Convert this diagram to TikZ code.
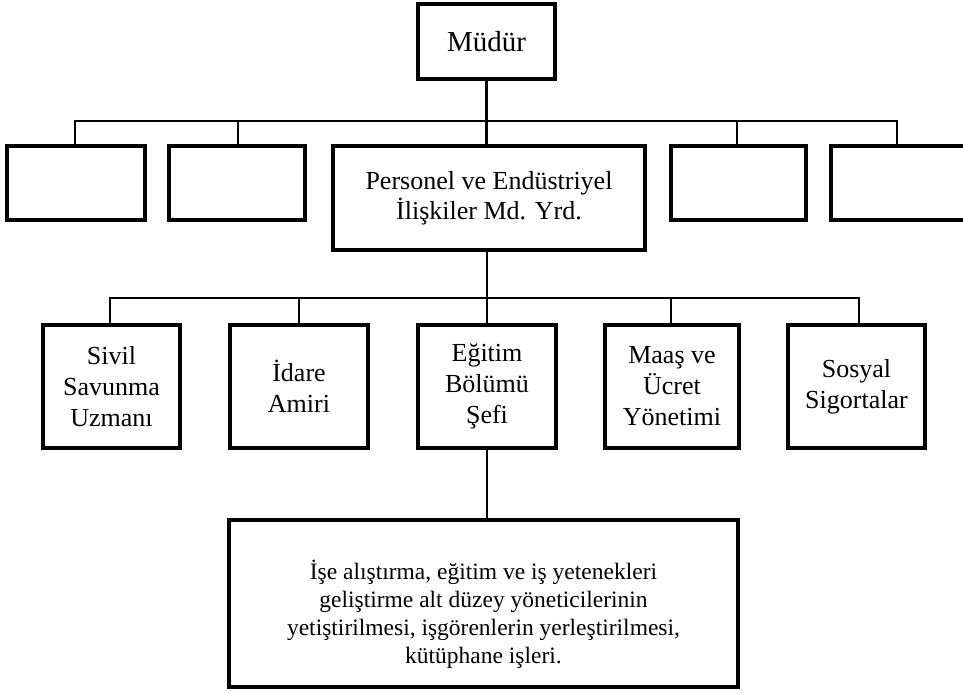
\documentclass[tikz,border=0pt]{standalone}
\usepackage{fontspec}
\setmainfont{Liberation Serif}
\begin{document}
\begin{tikzpicture}[x=1pt,y=-1pt,
  box/.style={draw=black,line width=3.2pt,rectangle,inner sep=0pt,align=center,
    font=\fontsize{26}{31}\selectfont},
  topbox/.style={box,minimum height=74pt},
  unitbox/.style={box,minimum height=123pt},
  link/.style={draw=black,line width=2.8pt}]
\useasboundingbox (0,0) rectangle (963,693);
\clip (0,0) rectangle (963,693);

% head of the organisation
\node[box,minimum width=137pt,minimum height=75pt,font=\fontsize{29}{34}\selectfont] (mudur) at (486.5,41.5)
  {\raisebox{-3pt}{Müdür}};

% first level
\node[topbox,minimum width=138pt] (b1) at (76,183) {};
\node[topbox,minimum width=136pt] (b2) at (237,183) {};
\node[box,minimum width=312pt,minimum height=104pt,font=\fontsize{26}{30}\selectfont] (pers) at (489,198)
  {Personel ve Endüstriyel\\İlişkiler Md. Yrd.};
\node[topbox,minimum width=135pt] (b4) at (738.5,183) {};
\node[topbox,minimum width=136pt] (b5) at (899,183) {};

% second level
\node[unitbox,minimum width=137pt] (sivil) at (111.5,386.5) {Sivil\\Savunma\\Uzmanı};
\node[unitbox,minimum width=138pt] (idare) at (299,386.5) {İdare\\Amiri};
\node[unitbox,minimum width=138pt] (egitim) at (487,386.5) {Eğitim\\Bölümü\\Şefi};
\node[unitbox,minimum width=134pt] (maas) at (672,386.5) {Maaş ve\\Ücret\\Yönetimi};
\node[unitbox,minimum width=137pt] (sosyal) at (856.5,386.5) {Sosyal\\Sigortalar};

% duties of the training section
\node[box,minimum width=509pt,minimum height=167pt] (gorev) at (483.5,603.5) {};
\node[align=center,inner sep=0pt,font=\fontsize{23.5}{28}\selectfont] (gorevtext) at (483.5,614)
  {İşe alıştırma, eğitim ve iş yetenekleri\\geliştirme alt düzey yöneticilerinin\\yetiştirilmesi, işgörenlerin yerleştirilmesi,\\kütüphane işleri.};

% bus lines
\coordinate (busA) at (0,121);
\coordinate (busB) at (0,298);

\draw[link] (mudur.south) -- (mudur.south |- pers.north);
\draw[link] ([xshift=-1pt]b1.north) -- ([xshift=-1pt]b1.north |- busA) -- ([xshift=-2pt]b5.north |- busA) -- ([xshift=-2pt]b5.north);
\draw[link] ([xshift=1pt]b2.north) -- ([xshift=1pt]b2.north |- busA);
\draw[link] ([xshift=-1.5pt]b4.north) -- ([xshift=-1.5pt]b4.north |- busA);

\draw[link] ([xshift=-2pt]pers.south) -- ([xshift=-2pt]pers.south |- egitim.north);
\draw[link] ([xshift=-1.5pt]sivil.north) -- ([xshift=-1.5pt]sivil.north |- busB) -- ([xshift=2.5pt]sosyal.north |- busB) -- ([xshift=2.5pt]sosyal.north);
\draw[link] (idare.north) -- (idare.north |- busB);
\draw[link] ([xshift=-1pt]maas.north) -- ([xshift=-1pt]maas.north |- busB);

\draw[link] (egitim.south) -- (egitim.south |- gorev.north);
\end{tikzpicture}
\end{document}
